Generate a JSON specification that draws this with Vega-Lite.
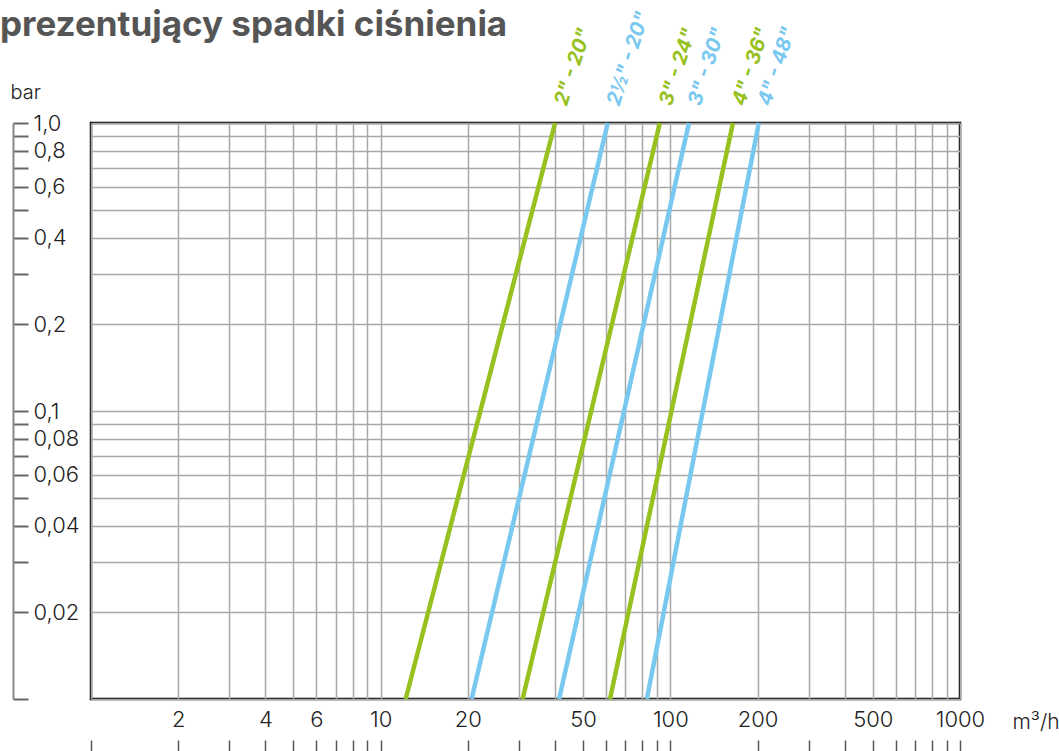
{
  "$schema": "https://vega.github.io/schema/vega-lite/v6.json",
  "autosize": "none",
  "width": 869,
  "height": 576,
  "padding": {"left": 91, "top": 123, "right": 99, "bottom": 52},
  "background": "white",
  "title": {
    "text": "prezentujący spadki ciśnienia",
    "anchor": "start",
    "frame": "group",
    "dx": -91,
    "dy": 44,
    "font": "Inter",
    "fontSize": 35,
    "fontWeight": 700,
    "color": "#555555",
    "offset": 10
  },
  "data": {
    "values": [
      {"series": "2\" - 20\"", "q": 12.2, "p": 0.01},
      {"series": "2\" - 20\"", "q": 40, "p": 1},
      {"series": "2½\" - 20\"", "q": 20.6, "p": 0.01},
      {"series": "2½\" - 20\"", "q": 60.8, "p": 1},
      {"series": "3\" - 24\"", "q": 30.9, "p": 0.01},
      {"series": "3\" - 24\"", "q": 92, "p": 1},
      {"series": "3\" - 30\"", "q": 41.3, "p": 0.01},
      {"series": "3\" - 30\"", "q": 116, "p": 1},
      {"series": "4\" - 36\"", "q": 61.9, "p": 0.01},
      {"series": "4\" - 36\"", "q": 164.5, "p": 1},
      {"series": "4\" - 48\"", "q": 83, "p": 0.01},
      {"series": "4\" - 48\"", "q": 202, "p": 1}
    ]
  },
  "resolve": {"axis": {"x": "independent", "y": "independent"}},
  "layer": [
    {
      "mark": {"type": "line", "strokeWidth": 4.5, "strokeCap": "butt"},
      "encoding": {
        "x": {
          "field": "q", "type": "quantitative",
          "scale": {"type": "log", "domain": [1, 1000], "nice": false},
          "axis": {
            "orient": "bottom",
            "values": [1,2,3,4,5,6,7,8,9,10,20,30,40,50,60,70,80,90,100,200,300,400,500,600,700,800,900,1000],
            "grid": true, "gridColor": "#a8a8a8", "gridWidth": 1.5,
            "ticks": false, "tickSize": 0, "domain": false,
            "format": "d",
            "labelExpr": "(datum.value == 2 || datum.value == 4 || datum.value == 6 || datum.value == 10 || datum.value == 20 || datum.value == 50 || datum.value == 100 || datum.value == 200 || datum.value == 500 || datum.value == 1000) ? datum.label : ''",
            "labelFont": "Inter", "labelFontWeight": 300, "labelFontSize": 22, "labelColor": "#222222",
            "labelPadding": 10, "labelBaseline": "top", "labelOverlap": false, "labelFlush": false,
            "title": "m³/h", "titleAngle": 0, "titleX": 921, "titleY": 23,
            "titleAlign": "left", "titleBaseline": "middle",
            "titleFont": "Inter", "titleFontWeight": 300, "titleFontSize": 21, "titleColor": "#222222"
          }
        },
        "y": {
          "field": "p", "type": "quantitative",
          "scale": {"type": "log", "domain": [0.01, 1], "nice": false},
          "axis": {
            "orient": "left",
            "values": [0.01,0.02,0.03,0.04,0.05,0.06,0.07,0.08,0.09,0.1,0.2,0.3,0.4,0.5,0.6,0.7,0.8,0.9,1],
            "grid": true, "gridColor": "#a8a8a8", "gridWidth": 1.5,
            "ticks": false, "labels": false, "domain": false, "title": null
          }
        },
        "color": {
          "field": "series", "type": "nominal",
          "scale": {
            "domain": ["2\" - 20\"", "2½\" - 20\"", "3\" - 24\"", "3\" - 30\"", "4\" - 36\"", "4\" - 48\""],
            "range": ["#96C11E", "#78C8EF", "#96C11E", "#78C8EF", "#96C11E", "#78C8EF"]
          },
          "legend": null
        }
      }
    },
    {
      "transform": [{"filter": "datum.p == 1"}],
      "mark": {
        "type": "text", "angle": -72, "align": "left", "baseline": "middle", "dx": 19,
        "font": "Inter", "fontSize": 20, "fontWeight": 700, "fontStyle": "italic"
      },
      "encoding": {
        "text": {"field": "series"},
        "x": {
          "field": "q", "type": "quantitative",
          "scale": {"type": "log", "domain": [1, 1000], "nice": false},
          "axis": {
            "orient": "bottom", "offset": 41,
            "values": [1,2,3,4,5,6,7,8,9,10,20,30,40,50,60,70,80,90,100,200,300,400,500,600,700,800,900,1000],
            "grid": false, "domain": false, "labels": false,
            "ticks": true, "tickSize": 14, "tickColor": "#555555", "tickWidth": 1.5,
            "title": null
          }
        },
        "y": {
          "field": "p", "type": "quantitative",
          "scale": {"type": "log", "domain": [0.01, 1], "nice": false},
          "axis": {
            "orient": "right", "offset": -947,
            "values": [0.01,0.02,0.03,0.04,0.05,0.06,0.07,0.08,0.09,0.1,0.2,0.3,0.4,0.5,0.6,0.7,0.8,0.9,1],
            "grid": false,
            "domain": true, "domainColor": "#888888", "domainWidth": 2,
            "ticks": true, "tickSize": 15, "tickColor": "#666666", "tickWidth": 2,
            "labelExpr": "datum.value == 1 ? '1,0' : ((datum.value == 0.8 || datum.value == 0.6 || datum.value == 0.4 || datum.value == 0.2 || datum.value == 0.1 || datum.value == 0.08 || datum.value == 0.06 || datum.value == 0.04 || datum.value == 0.02) ? replace(format(datum.value, '~g'), '.', ',') : '')",
            "labelFont": "Inter", "labelFontWeight": 300, "labelFontSize": 22, "labelColor": "#222222",
            "labelPadding": 5, "labelAlign": "left", "labelBaseline": "middle", "labelOverlap": false,
            "labelFlush": false,
            "title": "bar", "titleAngle": 0, "titleX": -3, "titleY": -31,
            "titleAlign": "left", "titleBaseline": "middle",
            "titleFont": "Inter", "titleFontWeight": 300, "titleFontSize": 20, "titleColor": "#222222"
          }
        },
        "color": {
          "field": "series", "type": "nominal",
          "scale": {
            "domain": ["2\" - 20\"", "2½\" - 20\"", "3\" - 24\"", "3\" - 30\"", "4\" - 36\"", "4\" - 48\""],
            "range": ["#96C11E", "#78C8EF", "#96C11E", "#78C8EF", "#96C11E", "#78C8EF"]
          },
          "legend": null
        }
      }
    }
  ],
  "config": {
    "view": {"stroke": "#000000", "strokeWidth": 2.5}
  }
}
